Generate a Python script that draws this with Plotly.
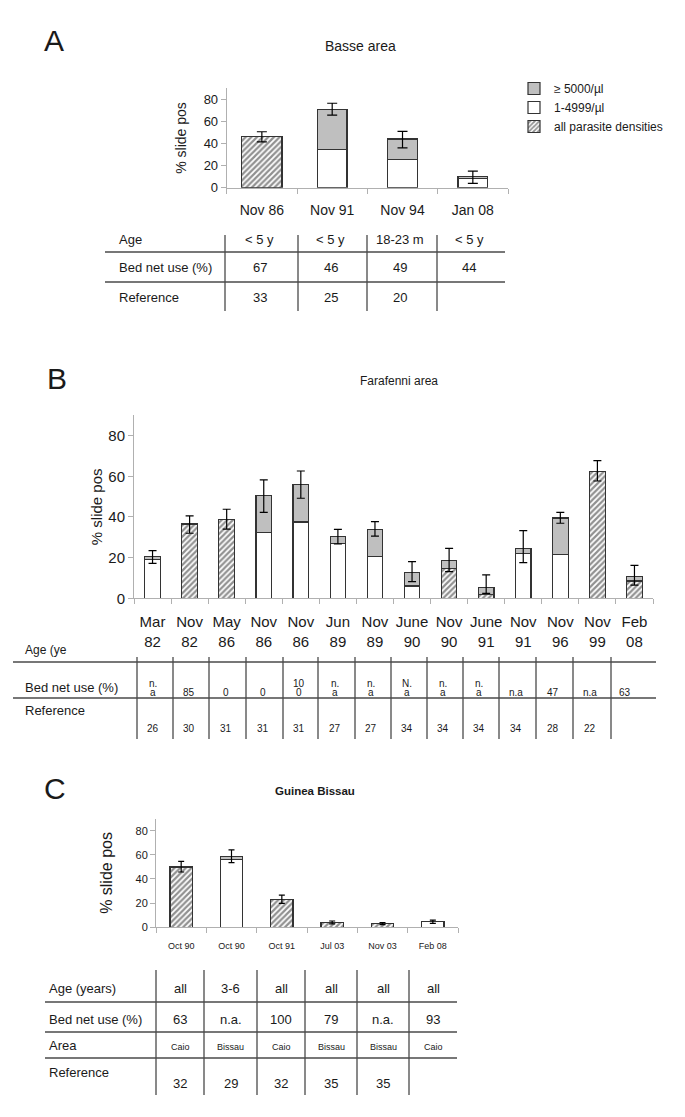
import plotly.graph_objects as go

W, H = 685, 1117
FONT = "Liberation Sans, Arial, sans-serif"
INK = "#1a1a1a"
EDGE = "#333333"
GRAY = "#bfbfbf"
AXIS = "#b0b0b0"
LINE = "#4a4a4a"

# ---------------- data ----------------
y_ticks = [0, 20, 40, 60, 80]

# Panel A - Basse area
a_labels = ["Nov 86", "Nov 91", "Nov 94", "Jan 08"]
a_low = [None, 34.5, 25.5, 8]          # 1-4999/µl
a_all = [46, None, None, None]         # all parasite densities
a_high = [None, 36.5, 18.5, 2]         # >= 5000/µl
a_err_plus = [4.6, 5.4, 7.0, 5.0]
a_err_minus = [4.6, 5.3, 8.0, 6.0]
a_age = ["< 5 y", "< 5 y", "18-23 m", "< 5 y"]
a_bednet = ["67", "46", "49", "44"]
a_ref = ["33", "25", "20", ""]

# Panel B - Farafenni area
b_labels = ["Mar<br>82", "Nov<br>82", "May<br>86", "Nov<br>86", "Nov<br>86", "Jun<br>89",
            "Nov<br>89", "June<br>90", "Nov<br>90", "June<br>91", "Nov<br>91", "Nov<br>96",
            "Nov<br>99", "Feb<br>08"]
b_low = [19, None, None, 32.5, 37.5, 27, 20.5, 6, None, None, 22, 21.5, None, None]
b_all = [None, 36.5, 38.7, None, None, None, None, None, 14.5, 2, None, None, 62.5, 8.5]
b_high = [1.5, None, None, 18, 18.5, 3.5, 13.5, 6.5, 4, 3.4, 2.5, 18, None, 2.3]
b_err_plus = [2.9, 4.0, 5.1, 7.7, 6.6, 3.4, 3.7, 5.5, 6.1, 6.1, 8.8, 2.8, 5.2, 5.4]
b_err_minus = [3.3, 4.5, 4.7, 8.2, 6.8, 3.8, 3.4, 4.3, 5.4, 3.0, 7.0, 2.6, 4.8, 4.3]
b_age_label = "Age (ye"
b_bednet = ["n.<br>a", "85", "0", "0", "10<br>0", "n.<br>a", "n.<br>a", "N.<br>a",
            "n.<br>a", "n.<br>a", "n.a", "47", "n.a", "63"]
b_ref = ["26", "30", "31", "31", "31", "27", "27", "34", "34", "34", "34", "28", "22", ""]

# Panel C - Guinea Bissau
c_labels = ["Oct 90", "Oct 90", "Oct 91", "Jul 03", "Nov 03", "Feb 08"]
c_low = [None, 56, None, None, None, 4.5]
c_all = [50, None, 23, 4, 3, None]
c_high = [None, 2.5, None, None, None, None]
c_err_plus = [4.6, 5.6, 3.6, 1.2, 0.8, 1.4]
c_err_minus = [4.2, 5.0, 3.2, 1.2, 0.8, 1.3]
c_age = ["all", "3-6", "all", "all", "all", "all"]
c_bednet = ["63", "n.a.", "100", "79", "n.a.", "93"]
c_area = ["Caio", "Bissau", "Caio", "Bissau", "Bissau", "Caio"]
c_ref = ["32", "29", "32", "35", "35", ""]

legend_names = {"high": "≥ 5000/µl", "low": "1-4999/µl", "all": "all parasite densities"}


# ---------------- helpers ----------------
def fx(px):
    return px / W


def fy(py):
    return 1 - py / H


fig = go.Figure()
HATCH = dict(shape="/", fgcolor="#222222", bgcolor="white", size=4, solidity=0.55)


def add_panel(xa, ya, low, allv, high, ep, em, widths, cap, legend):
    idx = list(range(len(low)))
    common = dict(x=idx, xaxis=xa, yaxis=ya, width=widths, hoverinfo="skip")
    fig.add_trace(go.Bar(y=low, name=legend_names["low"], showlegend=legend, legendrank=2,
                         marker=dict(color="white", line=dict(color=EDGE, width=1.2)), **common))
    fig.add_trace(go.Bar(y=allv, name=legend_names["all"], showlegend=legend, legendrank=3,
                         marker=dict(color="white", line=dict(color=EDGE, width=1.2), pattern=HATCH),
                         **common))
    fig.add_trace(go.Bar(y=high, name=legend_names["high"], showlegend=legend, legendrank=1,
                         marker=dict(color=GRAY, line=dict(color=EDGE, width=1.2)), **common))
    totals = [sum(v or 0 for v in t) for t in zip(low, allv, high)]
    fig.add_trace(go.Scatter(x=idx, y=totals, xaxis=xa, yaxis=ya, mode="markers",
                             marker=dict(size=1, color="rgba(0,0,0,0)"), showlegend=False,
                             hoverinfo="skip",
                             error_y=dict(type="data", symmetric=False, array=ep, arrayminus=em,
                                          color="black", thickness=1.2, width=cap)))


add_panel("x", "y", a_low, a_all, a_high, a_err_plus, a_err_minus, [0.57, 0.42, 0.42, 0.42], 5, True)
add_panel("x2", "y2", b_low, b_all, b_high, b_err_plus, b_err_minus, [0.42] * len(b_low), 4, False)
add_panel("x3", "y3", c_low, c_all, c_high, c_err_plus, c_err_minus, [0.44] * len(c_low), 3, False)


def xaxis_cfg(x0, x1, y_anchor, labels, size, standoff):
    n = len(labels)
    return dict(domain=[fx(x0), fx(x1)], anchor=y_anchor, range=[-0.5, n - 0.5],
                tickmode="array", tickvals=list(range(n)), ticktext=labels, ticks="",
                showline=True, linecolor=AXIS, linewidth=1, showgrid=False, zeroline=False,
                tickfont=dict(size=size, color=INK, family=FONT), ticklabelstandoff=standoff,
                minor=dict(tickmode="array", tickvals=[i - 0.5 for i in range(n + 1)],
                           ticks="outside", ticklen=5, tickcolor=AXIS, tickwidth=1, showgrid=False),
                fixedrange=True)


def yaxis_cfg(ybot, ytop, x_anchor, size, tsize, standoff):
    return dict(domain=[fy(ybot), fy(ytop)], anchor=x_anchor, range=[0, 90],
                tickmode="array", tickvals=y_ticks, ticks="outside", ticklen=5, tickcolor=AXIS,
                showline=True, linecolor=AXIS, linewidth=1, showgrid=False, zeroline=False,
                tickfont=dict(size=size, color=INK, family=FONT),
                title=dict(text="% slide pos", font=dict(size=tsize, color=INK, family=FONT),
                           standoff=standoff),
                fixedrange=True)


shapes = []
annotations = []


def hline(y, x0, x1):
    shapes.append(dict(type="line", xref="paper", yref="paper", x0=fx(x0), x1=fx(x1),
                       y0=fy(y), y1=fy(y), line=dict(color=LINE, width=1.3)))


def vline(x, y0, y1):
    shapes.append(dict(type="line", xref="paper", yref="paper", x0=fx(x), x1=fx(x),
                       y0=fy(y0), y1=fy(y1), line=dict(color=LINE, width=1.3)))


def text(x, y, s, size, anchor="center", bold=False):
    annotations.append(dict(xref="paper", yref="paper", x=fx(x), y=fy(y), text=s,
                            showarrow=False, xanchor=anchor, yanchor="middle",
                            font=dict(size=size, color=INK, family=FONT,
                                      weight="bold" if bold else "normal")))


# Panel letters and titles
text(54, 41, "A", 30)
text(57, 378, "B", 30)
text(55, 788, "C", 30)
text(360, 46, "Basse area", 14)
text(399, 381, "Farafenni area", 12)
text(315, 791, "Guinea Bissau", 11.5, bold=True)

# Table A
hline(252, 105, 505)
hline(282, 105, 505)
a_edges = [225, 298, 367, 437, 505]
for xv in a_edges[:-1]:
    vline(xv, 235, 311)
text(117, 240, "Age", 13, "left")
text(117, 268, "Bed net use (%)", 13, "left")
text(117, 297, "Reference", 13, "left")
for i in range(len(a_age)):
    cx = (a_edges[i] + a_edges[i + 1]) / 2 - 2
    text(cx, 240, a_age[i], 13)
    text(cx, 268, a_bednet[i], 13)
    text(cx, 297, a_ref[i], 13)

# Table B
hline(662, 13, 656)
hline(698, 13, 656)
b_edges = [137, 173, 209, 246, 283, 318, 355, 391, 427, 463, 499, 536, 573, 611, 643]
for xv in b_edges[:-1]:
    vline(xv, 657, 739)
text(23, 650, b_age_label, 12, "left")
text(23, 687, "Bed net use (%)", 13, "left")
text(23, 710, "Reference", 13, "left")
for i in range(len(b_bednet)):
    cx = (b_edges[i] + b_edges[i + 1]) / 2 - 2
    parts = b_bednet[i].split("<br>")
    n = len(parts)
    for j, p in enumerate(parts):
        text(cx, 692 - (n - 1 - j) * 9, p, 10)
    text(cx, 728, b_ref[i], 10)

# Table C
hline(1002, 45, 457)
hline(1032, 45, 457)
hline(1058, 45, 457)
c_edges = [156, 204, 257, 305, 357, 409, 457]
for xv in c_edges[:-1]:
    vline(xv, 970, 1095)
text(47, 988, "Age (years)", 13, "left")
text(47, 1019, "Bed net use (%)", 13, "left")
text(47, 1045, "Area", 13, "left")
text(47, 1072, "Reference", 13, "left")
for i in range(len(c_age)):
    cx = (c_edges[i] + c_edges[i + 1]) / 2
    text(cx, 988, c_age[i], 13)
    text(cx, 1019, c_bednet[i], 13)
    text(cx, 1047, c_area[i], 9)
    text(cx, 1083, c_ref[i], 13)

fig.update_layout(
    width=W, height=H, margin=dict(l=0, r=0, t=0, b=0, autoexpand=False),
    paper_bgcolor="white", plot_bgcolor="white", barmode="stack",
    font=dict(family=FONT, color=INK),
    xaxis=xaxis_cfg(226.7, 508, "y", a_labels, 14, 9),
    yaxis=yaxis_cfg(187.7, 88.2, "x", 13, 14, 13),
    xaxis2=xaxis_cfg(134, 653, "y2", b_labels, 15, 10),
    yaxis2=yaxis_cfg(598.3, 415.3, "x2", 15, 15, 2),
    xaxis3=xaxis_cfg(156, 458, "y3", c_labels, 9, 10),
    yaxis3=yaxis_cfg(927.3, 818.6, "x3", 11, 16, 18),
    legend=dict(x=fx(514), y=fy(74), xanchor="left", yanchor="top", traceorder="normal",
                font=dict(size=12, color=INK, family=FONT), bgcolor="rgba(0,0,0,0)",
                tracegroupgap=0, itemwidth=30),
    shapes=shapes, annotations=annotations,
)

fig.write_html("out.html", post_script="document.body.style.margin='0';",
               config={"displayModeBar": False})
